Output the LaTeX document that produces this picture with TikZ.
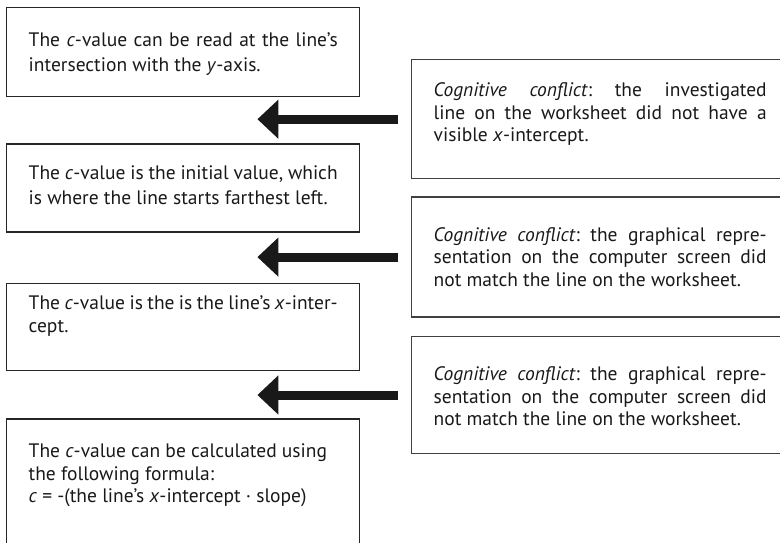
\documentclass[tikz,border=0pt]{standalone}
\usepackage{fontspec}
\setmainfont{PT Sans}
\usetikzlibrary{arrows.meta, positioning}
\hbadness=10000
\frenchspacing

\begin{document}
\begin{tikzpicture}[x=1pt, y=-1pt,
    box/.style={draw=black!85, line width=1.4pt, anchor=north west, inner xsep=22pt, inner ysep=0pt,
        align=justify, font=\fontsize{19.5}{22.5}\selectfont, text=black!90},
    leftbox/.style={box, text width=309pt},
    rightbox/.style={box, text width=333pt, draw=black!75},
    widerlines/.style={font=\fontsize{19.5}{25}\selectfont},
    bigarrow/.style={-{Triangle[length=21pt, width=38pt]}, line width=9pt, draw=black!90}]
    \clip (0,0) rectangle (780,542);

    % Left column
    \node[leftbox, widerlines, text height=39pt, text depth=50pt] (L1) at (6,7)
        {The \textit{c}-value can be read at the line’s\break intersection with the \textit{y}-axis.};
    \node[leftbox, widerlines, text height=35pt, text depth=53pt, below=46pt of L1.south west, anchor=north west] (L2)
        {The \textit{c}-value is the initial value, which\break is where the line starts farthest left.};
    \node[leftbox, text height=26pt, text depth=61pt, below=50pt of L2.south west, anchor=north west] (L3)
        {The \textit{c}-value is the is the line’s \textit{x}-inter-\break cept.};
    \node[leftbox, text height=39pt, text depth=120pt, below=47pt of L3.south west, anchor=north west] (L4)
        {The \textit{c}-value can be calculated using\\ the following formula:\\ \textit{c} = -(the line’s \textit{x}-intercept · slope)};

    % Right column
    \node[rightbox, text height=37pt, text depth=82pt] (R1) at (411,59)
        {\textit{Cognitive conflict}: the investigated\break line on the worksheet did not have a\break visible \textit{x}-intercept.};
    \node[rightbox, text height=44pt, text depth=76pt, below=17pt of R1.south west, anchor=north west] (R2)
        {\textit{Cognitive conflict}: the graphical repre-\break sentation on the computer screen did\break not match the line on the worksheet.};
    \node[rightbox, text height=44pt, text depth=73pt, below=18pt of R2.south west, anchor=north west] (R3)
        {\textit{Cognitive conflict}: the graphical repre-\break sentation on the computer screen did\break not match the line on the worksheet.};

    % Arrows
    \draw[bigarrow] ([xshift=-13pt]R1.west) -- ([xshift=-103pt]R1.west -| L1.east);
    \draw[bigarrow] ([xshift=-13pt]R2.west) -- ([xshift=-103pt]R2.west -| L2.east);
    \draw[bigarrow] ([xshift=-13pt]R3.west) -- ([xshift=-103pt]R3.west -| L3.east);
\end{tikzpicture}
\end{document}
